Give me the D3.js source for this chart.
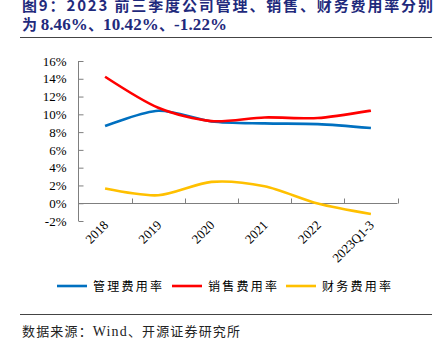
<!DOCTYPE html>
<html><head><meta charset="utf-8">
<script src="https://cdn.jsdelivr.net/npm/d3@7"></script>
<style>body{margin:0;background:#fff}svg{display:block}</style>
</head><body>
<svg id="c" width="445" height="347"></svg>
<script>
const categories = ["2018","2019","2020","2021","2022","2023Q1-3"];
const mgmt = [8.68, 10.4, 9.2, 8.98, 8.9, 8.46];
const sales = [14.23, 10.74, 9.24, 9.65, 9.58, 10.42];
const fin = [1.65, 0.9, 2.4, 1.9, -0.04, -1.22];
const yTicks = [-2,0,2,4,6,8,10,12,14,16];
const seriesNames = ["管理费用率","销售费用率","财务费用率"];
const colors = ["#0070C0","#FF0000","#FFC000"];

const svg = d3.select("#c");
const serif = "'Liberation Serif','Times New Roman',serif";
const cjk = "'Noto Sans CJK SC',sans-serif";
const navy = "#1f2a7c";

// title
svg.append("text").attr("x",22).attr("y",11).attr("font-family",cjk).attr("font-weight","bold")
  .attr("font-size",15).attr("fill",navy).attr("textLength",411).attr("lengthAdjust","spacing")
  .text("图9：2023 前三季度公司管理、销售、财务费用率分别");
const t2 = svg.append("text").attr("x",22).attr("y",30).attr("font-weight","bold").attr("font-size",17).attr("fill",navy)
  .attr("textLength",205).attr("lengthAdjust","spacing");
t2.append("tspan").attr("font-family",cjk).attr("font-size",15).text("为 ");
t2.append("tspan").attr("font-family",serif).text("8.46%");
t2.append("tspan").attr("font-family",cjk).attr("font-size",15).text("、");
t2.append("tspan").attr("font-family",serif).text("10.42%");
t2.append("tspan").attr("font-family",cjk).attr("font-size",15).text("、");
t2.append("tspan").attr("font-family",serif).text("-1.22%");
svg.append("line").attr("x1",20).attr("x2",432).attr("y1",37.5).attr("y2",37.5).attr("stroke","#444").attr("stroke-width",1.2);

const x = d3.scaleBand().domain(categories).range([78.5,397.5]);
const y = d3.scaleLinear().domain([-2,16]).range([221,61]);
const axisColor = "#7f7f7f";

// y axis
const yAxis = d3.axisLeft(y).tickValues(yTicks).tickSize(-5).tickPadding(12).tickFormat(d=>d+"%");
const gy = svg.append("g").attr("transform","translate(78.5,0)").call(yAxis);
gy.select(".domain").attr("stroke",axisColor).attr("d","M0,61V221");
gy.selectAll(".tick line").attr("stroke",axisColor);
gy.selectAll(".tick text").attr("font-family",serif).attr("font-size",13).attr("fill","#000");

// x axis at 0
const y0 = Math.round(y(0))+0.5;
const gx = svg.append("g");
gx.append("line").attr("x1",78.5).attr("x2",397.5).attr("y1",y0).attr("y2",y0).attr("stroke",axisColor);
const bounds = categories.map(c=>x(c)+x.bandwidth());
gx.selectAll(".tk").data(bounds).join("line").attr("x1",d=>Math.round(d)+0.5).attr("x2",d=>Math.round(d)+0.5)
  .attr("y1",y0).attr("y2",y0-5).attr("stroke",axisColor);
svg.selectAll(".xl").data(categories).join("text")
  .attr("transform",d=>`translate(${x(d)+x.bandwidth()/2+4},${226}) rotate(-45)`)
  .attr("text-anchor","end").attr("font-family",serif).attr("font-size",13).text(d=>d);

// lines
const line = d3.line().x((d,i)=>x(categories[i])+x.bandwidth()/2).y(d=>y(d)).curve(d3.curveCardinal.tension(0.15));
[mgmt,sales,fin].forEach((s,i)=>{
  svg.append("path").datum(s).attr("d",line).attr("fill","none").attr("stroke",colors[i]).attr("stroke-width",2.6);
});

// legend
const lx = [57,172,286];
seriesNames.forEach((n,i)=>{
  svg.append("line").attr("x1",lx[i]).attr("x2",lx[i]+30).attr("y1",286).attr("y2",286).attr("stroke",colors[i]).attr("stroke-width",2.6);
  svg.append("text").attr("x",lx[i]+36).attr("y",290.5).attr("font-family",cjk).attr("font-size",12)
    .attr("textLength",69).attr("lengthAdjust","spacing").text(n);
});

svg.append("line").attr("x1",20).attr("x2",432).attr("y1",314.5).attr("y2",314.5).attr("stroke","#444").attr("stroke-width",1.2);
const src = svg.append("text").attr("x",22).attr("y",336).attr("font-size",13).attr("fill","#222")
  .attr("textLength",218).attr("lengthAdjust","spacing");
src.append("tspan").attr("font-family",cjk).text("数据来源：");
src.append("tspan").attr("font-family",serif).attr("font-size",14).text("Wind");
src.append("tspan").attr("font-family",cjk).text("、开源证券研究所");
</script>
</body></html>
